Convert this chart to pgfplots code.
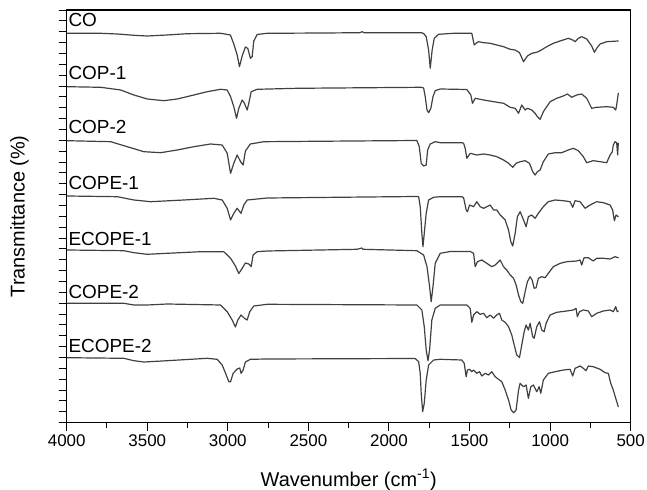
\documentclass[border=0pt]{standalone}
\usepackage{fontspec}
\setmainfont{Liberation Sans}
\usepackage{pgfplots}
\pgfplotsset{compat=1.18}
\definecolor{spec}{HTML}{404040}
\pgfplotsset{ftir/.style={draw=spec, line width=1.2pt, line join=round, line cap=round, mark=none, solid}}
\begin{document}
\begin{tikzpicture}
\useasboundingbox (-66.7bp,-67.3bp) rectangle (580.3bp,422.7bp);
\begin{axis}[
  at={(0,0)}, anchor=south west,
  scale only axis, width=564bp, height=412.7bp,
  xmin=500, xmax=4000, x dir=reverse,
  ymin=0, ymax=412.7,
  xtick={500,1000,...,4000},
  minor xtick={750,1250,...,3750},
  ytick={0,10.86,21.72,32.58,43.44,54.3,65.16,76.02,86.88,97.74,108.6,119.46,130.32,141.18,152.04,162.9,173.76,184.62,195.48,206.34,217.2,228.06,238.92,249.78,260.64,271.5,282.36,293.22,304.08,314.94,325.8,336.66,347.52,358.38,369.24,380.1,390.96,401.82,412.68},
  yticklabels={},
  tick align=outside, xtick pos=bottom, ytick pos=left,
  major tick length=8bp, minor tick length=5bp,
  every tick/.style={black, line width=1bp},
  axis line style={black, line width=1.2bp},
  ticklabel style={font=\fontsize{17}{17}\selectfont},
  /pgf/number format/assume math mode=true,
  /pgf/number format/set thousands separator={},
  xlabel={Wavenumber (cm\textsuperscript{-1})},
  ylabel={Transmittance (\%)},
  xlabel style={font=\fontsize{20}{20}\selectfont, at={(axis description cs:0.5,0)}, anchor=base, yshift=-63.5bp, inner sep=0pt},
  ylabel style={font=\fontsize{20}{20}\selectfont, at={(axis description cs:-0.1005,0.5)}, anchor=north, rotate=0, inner sep=0pt},
  clip=false,
]
% CO
\addplot[ftir] table {
3996 389.4
3789 389.4
3686 388.7
3583 387.4
3500 386.7
3376 387.7
3252 389
3045 389.4
2984 387.7
2963 378.7
2942 367.7
2928 356
2911 366.7
2891 375.7
2876 374.2
2860 364.4
2849 366
2839 381.7
2818 388.2
2756 389.4
2400 389.7
2180 390
2167 391
2155 390
1800 390
1785 389.2
1769 386
1754 372.7
1744 354.4
1732 372.7
1719 384.4
1692 388.4
1599 389.4
1486 389.4
1471 377.7
1455 380
1444 381
1413 380
1372 379.4
1331 377.7
1289 376
1248 373.4
1217 372.7
1190 370
1165 361
1141 366.7
1114 369.4
1083 370.4
1062 372
1021 376
980 379.4
938 381.7
887 384.4
860 382.7
845 381
825 384.4
804 386
773 383.7
742 376.7
725 370.4
711 374.4
690 378.7
649 381
577 381.7
};
% COP-1
\addplot[ftir] table {
3996 336
3789 335.4
3665 332.7
3583 327.7
3500 323.7
3397 322
3314 323.7
3211 327.7
3128 331
3045 333.4
3004 332.7
2983 326
2963 316
2946 304.4
2932 314.4
2911 322.7
2897 319.4
2880 312.7
2870 319.4
2855 331
2818 333.4
2570 334.4
1800 335.4
1785 334.7
1775 326
1764 312.7
1754 310
1740 314.4
1727 326
1713 332
1682 333.7
1517 333.2
1492 327.7
1482 319.4
1465 324.4
1413 322.7
1351 321
1289 319.4
1248 315.4
1217 314.4
1196 309.4
1176 317.7
1155 312.7
1141 314.4
1114 312.7
1093 309.4
1079 306
1062 303.4
1042 311
1000 321
959 324.4
918 326.7
893 328.7
866 325.4
835 327.7
804 328.7
773 324.4
742 314.4
711 315.4
649 316
608 315.4
593 312.7
587 317.7
577 329.4
};
% COP-2
\addplot[ftir] table {
3996 282
3727 281
3624 276
3521 271
3417 270
3314 272.7
3211 276
3107 278.7
3035 277.7
3004 269.4
2983 249.4
2963 259.4
2942 267.7
2921 261
2905 257.7
2891 271.7
2860 278.7
2777 281
1827 282.2
1812 276
1800 259.4
1785 256.7
1769 257.7
1760 272.7
1744 278.7
1713 281
1682 280
1548 280
1537 279.4
1527 274.4
1517 264.4
1496 269.4
1455 267.7
1413 268.7
1372 267.7
1331 266
1289 262.7
1258 259.4
1232 255.4
1211 259.4
1186 261
1155 262
1128 259.4
1108 251
1093 247.7
1079 251
1062 252.7
1042 261
1011 268.7
969 270
928 270
887 272.7
856 274.4
825 272
794 266
773 260
732 262
690 261
649 260
628 267.7
614 271
608 277.7
597 281
587 280
581 267.7
577 279.4
};
% COPE-1
\addplot[ftir] table {
3996 226.7
3686 226
3583 222.7
3479 221
3273 222.7
3087 224.4
3035 222.7
3004 214.4
2983 202.7
2963 209.4
2942 214.4
2926 211
2918 209.4
2901 217.7
2880 222.7
2756 224.7
1830 226.2
1816 226
1806 216
1796 189.4
1789 176
1781 189.4
1769 209.4
1754 222.7
1723 225.4
1682 226
1548 226
1537 225
1521 212.7
1513 211
1500 217.7
1475 216
1455 221
1434 216
1413 214.4
1393 216
1372 217.7
1351 212.7
1331 212.7
1310 207.7
1279 202.7
1258 192.7
1244 181
1232 176.7
1217 189.4
1203 206
1186 211
1165 202.7
1149 196
1135 206
1114 207.7
1093 204.4
1073 209.4
1042 216
1011 221
969 222.7
918 222
876 221
860 215.4
845 222
814 221
783 214.4
752 217.7
711 221
670 220
628 217.7
612 212.7
601 202
591 207.7
577 206
};
% ECOPE-1
\addplot[ftir] table {
3996 172.7
3645 172
3583 170
3500 168.4
3376 169.4
3169 171
3025 171
2983 164.4
2953 156.7
2932 149.2
2911 154.4
2891 159.7
2870 158.7
2855 156.2
2843 167.7
2818 171
2756 171.7
2198 173.4
2170 174.7
2160 173.4
1827 172
1785 167.7
1764 156
1748 136
1738 121
1727 136
1713 159.4
1682 169.4
1620 171.2
1496 171.2
1475 169.4
1465 156
1451 161
1424 162.7
1393 159.4
1362 156
1341 157.7
1310 162.7
1289 156
1269 152.7
1248 147.7
1227 144.4
1211 137.7
1196 127.7
1182 121
1170 119.4
1155 131
1141 141
1124 146
1112 142.7
1099 134.4
1087 135
1073 144.4
1052 146
1031 145
1011 149.4
980 156
938 159.4
897 161
835 161.7
814 162.7
804 157.7
789 165
763 165
732 161.7
711 164.4
670 164.4
628 163.7
597 166
577 165
};
% COPE-2
\addplot[ftir] table {
3996 119.4
3645 119.4
3583 117.7
3500 117.7
3376 118.7
3045 117.7
3004 111
2973 102.7
2953 95.7
2938 102.7
2918 107.7
2897 104.4
2880 102.7
2864 111
2839 116.7
2756 118.4
1827 117.7
1796 112.7
1781 96
1769 72.7
1758 62
1748 72.7
1734 102.7
1713 114.4
1682 117.7
1517 117.7
1496 114.4
1486 100.4
1475 107.7
1455 111
1434 108.4
1413 109.4
1393 105
1372 107.7
1351 104.4
1331 107.7
1314 109.4
1300 102.7
1279 100.4
1258 96
1238 87.7
1223 77.7
1207 67.7
1190 65.2
1176 77.7
1161 91
1149 97.7
1135 92.7
1124 99.4
1108 86
1099 84.4
1083 96
1066 101
1052 92.7
1037 91
1025 99.4
1000 107.7
959 110.4
897 111.7
856 112.7
839 114.4
831 106
818 111
794 112.7
763 111.7
742 106
711 109.4
670 111.7
628 112.7
608 111
593 116
583 111
577 111.7
};
% ECOPE-2
\addplot[ftir] table {
3996 65
3645 64.4
3583 62
3521 60.7
3376 62
3128 64.4
3066 63.4
3035 57.7
3014 49.4
2994 41
2983 41
2967 49.4
2942 53.7
2926 54.7
2918 49.4
2905 52.7
2891 60.7
2860 63.4
2756 63.7
1837 64.2
1816 61
1806 49.4
1800 29.4
1791 11
1781 19.4
1769 42.7
1754 57.7
1723 62.7
1682 63.4
1548 62.7
1533 59.4
1521 46
1513 52.7
1500 53.4
1486 51
1475 52.7
1455 49.4
1438 51
1424 46.7
1403 49.4
1382 47.7
1362 51
1341 46
1320 43.4
1300 41
1279 32.7
1258 22.7
1242 12.7
1227 10
1211 12.7
1196 32.7
1186 39.4
1165 36
1149 37.7
1135 24.4
1120 36
1104 37.7
1083 31
1068 36
1058 29.4
1042 42.7
1011 49.4
969 51
918 52.7
876 53.4
860 46.7
845 54.4
814 56.7
794 54.4
777 52
763 56.7
732 56
690 53.4
659 50
639 49.4
624 39.4
608 32.7
593 24.4
577 16
};
\begin{scope}[every node/.style={anchor=base west, inner sep=0pt, font=\fontsize{19}{19}\selectfont}]
\node at (axis cs:3990,396.4) {CO};
\node at (axis cs:3990,343.3) {COP-1};
\node at (axis cs:3990,289.4) {COP-2};
\node at (axis cs:3990,233.5) {COPE-1};
\node at (axis cs:3990,177.5) {ECOPE-1};
\node at (axis cs:3990,124.4) {COPE-2};
\node at (axis cs:3990,70.4) {ECOPE-2};
\end{scope}
\end{axis}
\end{tikzpicture}
\end{document}
